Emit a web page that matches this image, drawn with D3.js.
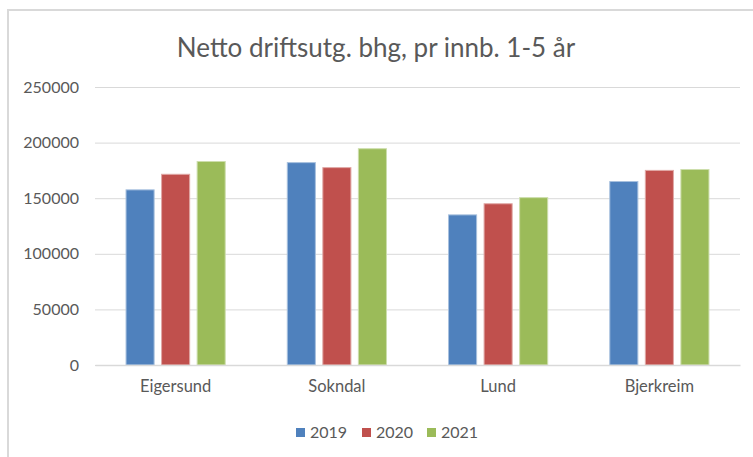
<!DOCTYPE html>
<html>
<head>
<meta charset="utf-8">
<script src="https://cdn.jsdelivr.net/npm/d3@7"></script>
<style>
  body { margin: 0; background: #fff; }
  text { font-family: Lato, "Open Sans", sans-serif; fill: #595959; }
</style>
</head>
<body>
<div id="chart"></div>
<script>
let categories = ['Eigersund', 'Sokndal', 'Lund', 'Bjerkreim'];
let years = ['2019', '2020', '2021'];
let values2019 = [157500, 182000, 135000, 165000];
let values2020 = [171500, 177500, 145000, 175000];
let values2021 = [183000, 194500, 150500, 175800];
let yTicks = [0, 50000, 100000, 150000, 200000, 250000];
let colors = ['#4f81bd', '#c0504d', '#9bbb59'];
let edges = ['#a7c0de', '#e0a8a6', '#cddeac'];

let series = [values2019, values2020, values2021];

let width = 753;
let height = 457;
let margin = {top: 87, right: 13, bottom: 92, left: 95};
let innerW = width - margin.left - margin.right;
let innerH = height - margin.top - margin.bottom;

let svg = d3.select('#chart')
  .append('svg')
  .attr('width', width)
  .attr('height', height);

// chart frame (runs off the right and bottom edge)
svg.append('path')
  .attr('d', 'M8,' + height + 'V10H' + width)
  .attr('fill', 'none')
  .attr('stroke', '#d9d9d9')
  .attr('stroke-width', 2);

svg.append('text')
  .attr('x', 376)
  .attr('y', 57)
  .attr('text-anchor', 'middle')
  .style('font-size', '26px')
  .text('Netto driftsutg. bhg, pr innb. 1-5 år');

let g = svg.append('g')
  .attr('transform', 'translate(' + margin.left + ',' + margin.top + ')');

let xScale = d3.scaleBand()
  .domain(categories)
  .range([0, innerW])
  .paddingInner(0.385)
  .paddingOuter(0.1925);

let xInner = d3.scaleBand()
  .domain(years)
  .range([0, xScale.bandwidth()])
  .paddingInner(0.21);

let yScale = d3.scaleLinear()
  .domain([0, 250000])
  .range([innerH, 0]);

let yAxis = d3.axisLeft(yScale)
  .tickValues(yTicks)
  .tickSize(-innerW)
  .tickPadding(16)
  .tickFormat(d3.format('d'));

g.append('g')
  .attr('class', 'y axis')
  .call(yAxis)
  .call(a => a.select('.domain').remove())
  .call(a => a.selectAll('line').attr('stroke', '#d9d9d9'))
  .call(a => a.selectAll('text').style('font-size', '16px').attr('fill', '#595959'));

let groups = g.selectAll('.grp')
  .data(categories)
  .enter()
  .append('g')
  .attr('class', 'grp')
  .attr('transform', d => 'translate(' + xScale(d) + ',0)');

groups.selectAll('rect')
  .data((d, i) => years.map((y, j) => ({year: y, j: j, value: series[j][i]})))
  .enter()
  .append('rect')
  .attr('x', d => xInner(d.year))
  .attr('y', d => yScale(d.value))
  .attr('width', xInner.bandwidth())
  .attr('height', d => innerH - yScale(d.value))
  .attr('fill', d => colors[d.j])
  .attr('stroke', d => edges[d.j])
  .attr('stroke-width', 1);

let xAxis = d3.axisBottom(xScale).tickSize(0).tickPadding(15);
g.append('g')
  .attr('class', 'x axis')
  .attr('transform', 'translate(0,' + innerH + ')')
  .call(xAxis)
  .call(a => a.select('.domain').attr('stroke', '#d9d9d9').attr('stroke-width', 1.5))
  .call(a => a.selectAll('text').style('font-size', '16.5px').attr('fill', '#595959'));

// legend
let legendX = [296, 362, 427];
let legend = svg.selectAll('.legend')
  .data(years)
  .enter()
  .append('g')
  .attr('class', 'legend')
  .attr('transform', (d, i) => 'translate(' + legendX[i] + ',428)');

legend.append('rect')
  .attr('width', 9)
  .attr('height', 9)
  .attr('fill', (d, i) => colors[i]);

legend.append('text')
  .attr('x', 14)
  .attr('y', 10)
  .style('font-size', '16px')
  .text(d => d);
</script>
</body>
</html>
